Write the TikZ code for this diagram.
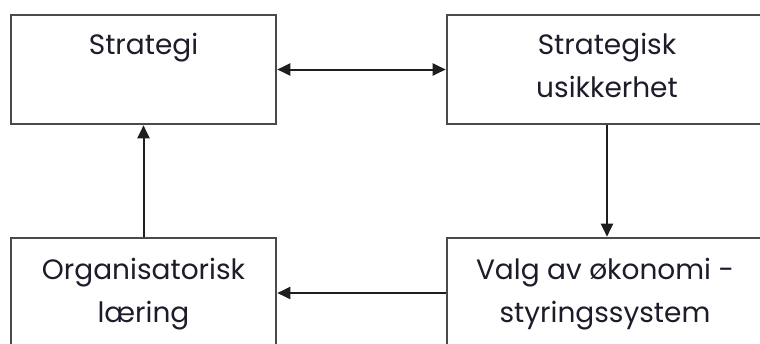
\documentclass[tikz,border=0pt]{standalone}
\usepackage{fontspec}
\setmainfont{Poppins}
\usetikzlibrary{arrows.meta}
\definecolor{boxline}{HTML}{4A4A4A}
\definecolor{arrowline}{HTML}{1E1E1E}
\definecolor{txt}{HTML}{1C1C2A}
\begin{document}
\begin{tikzpicture}[x=1pt,y=1pt,
  blk/.style={draw=boxline,line width=2.6pt,fill=white,inner sep=0pt,minimum width=#1},
  blk/.default=265pt,
  lbl/.style={text=txt,font=\fontsize{28}{43}\selectfont,align=center,anchor=base,inner sep=0pt},
  tip/.tip={Triangle[length=13pt,width=12pt]},
  flow/.style={draw=arrowline,line width=2pt,-tip},
  flow2/.style={draw=arrowline,line width=2pt,tip-tip}]
\useasboundingbox (0,0) rectangle (760,-343);
\begin{scope}
\clip (0,0) rectangle (760,-343);
% the four blocks (two of them run past the page edges)
\node[blk=265pt,minimum height=109pt] (strat) at (143.5,-69.5) {};
\node[blk=320pt,minimum height=109pt] (usik) at (607,-69.5) {};
\node[blk=265pt,minimum height=130pt] (laer) at (143.5,-303) {};
\node[blk=320pt,minimum height=130pt] (valg) at (607,-303) {};
% texts (anchored at the baseline of their last line)
\node[lbl] (tStrat) at (143.5,-54) {Strategi};
\node[lbl] (tUsik) at (607,-97) {Strategisk\\usikkerhet};
\node[lbl] (tLaer) at (143.5,-322) {Organisatorisk\\læring};
\node[lbl] (tValg) at (605,-322) {Valg av økonomi -\\styringssystem};
\end{scope}
% connectors
\draw[flow2] (strat.east) -- (usik.west);
\draw[flow] (usik.south -| tUsik) -- (valg.north -| tUsik);
\draw[flow] (valg.west |- 0,-293) -- (laer.east |- 0,-293);
\draw[flow] (laer.north -| strat) -- (strat.south);
\end{tikzpicture}
\end{document}
